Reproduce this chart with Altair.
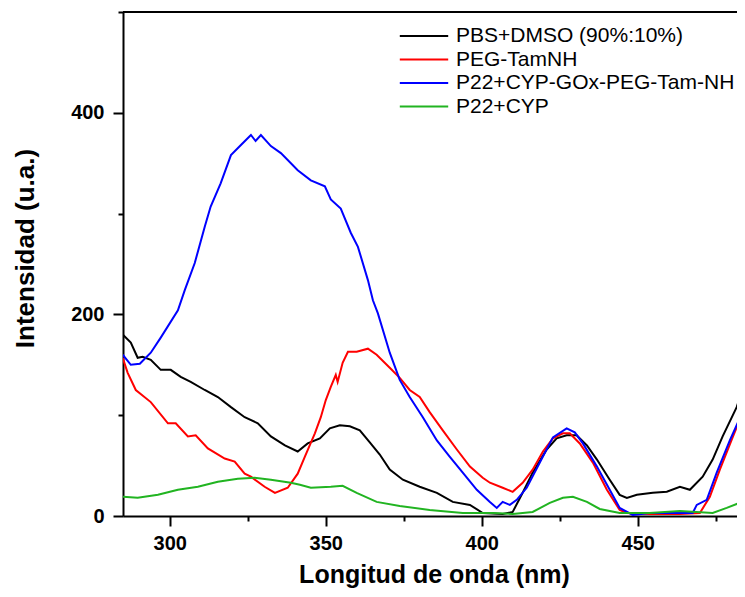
import altair as alt
import pandas as pd

# ---- data ----
SERIES = ["PBS+DMSO (90%:10%)", "PEG-TamNH", "P22+CYP-GOx-PEG-Tam-NH", "P22+CYP"]
COLORS = ["#000000", "#ff0000", "#0000ff", "#21b421"]

BLACK_X = [284.9, 287.5, 289.7, 291.3, 293.9, 297.1, 300.3, 303.5, 306.7, 311.2,
           315.4, 319.6, 324.0, 328.2, 332.4, 336.9, 341.0, 344.2, 348.1, 351.3,
           354.5, 357.7, 360.9, 364.1, 367.3, 370.5, 374.7, 380.1, 385.6, 390.7,
           396.2, 400.3, 406.7, 409.9, 413.1, 416.3, 420.8, 424.0, 427.2, 430.4,
           433.7, 436.9, 441.0, 444.2, 446.5, 449.7, 454.8, 459.3, 463.5, 466.7,
           470.8, 474.0, 477.2, 481.7, 484.3]
BLACK_Y = [180, 172, 157, 158, 155, 145, 145, 138, 133, 125,
           118, 108, 98, 92, 79, 70, 64, 72, 77, 87,
           90, 89, 85, 73, 61, 46, 36, 29, 23, 14,
           11, 3, 2, 4, 23, 43, 66, 77, 80, 80,
           70, 56, 36, 21, 18, 21, 23, 24, 29, 26,
           39, 56, 79, 108, 132]

RED_X = [284.9, 286.5, 289.1, 293.9, 299.4, 301.9, 305.8, 308.3, 312.2, 317.6,
         320.8, 324.0, 326.0, 330.4, 333.7, 337.8, 341.0, 343.3, 346.5, 348.4,
         350.0, 351.6, 353.2, 353.8, 355.4, 357.1, 359.9, 363.5, 366.3, 370.5,
         373.7, 376.9, 380.1, 383.3, 387.5, 392.0, 396.2, 400.3, 402.6, 406.7,
         409.9, 413.1, 416.3, 419.6, 422.8, 426.0, 428.2, 431.4, 435.6, 440.1,
         444.2, 446.5, 453.8, 463.5, 469.9, 473.1, 476.3, 480.4, 484.3]
RED_Y = [157, 142, 125, 113, 92, 92, 79, 80, 67, 57,
         54, 42, 39, 29, 23, 28, 42, 59, 82, 98,
         115, 128, 140, 133, 152, 163, 163, 166, 160, 147,
         137, 125, 118, 103, 85, 66, 49, 38, 33, 28,
         24, 33, 46, 64, 77, 82, 82, 72, 53, 26,
         6, 3, 2, 2, 3, 19, 46, 78, 108]

BLUE_X = [284.9, 287.5, 290.4, 293.9, 297.1, 302.6, 304.8, 308.0, 311.2, 313.1,
          316.3, 319.6, 322.8, 326.0, 327.5, 329.2, 332.4, 335.6, 341.0, 345.2,
          349.7, 351.6, 354.8, 358.0, 360.3, 363.5, 365.1, 366.7, 370.5, 373.7,
          376.9, 381.1, 385.6, 389.7, 393.9, 398.4, 402.6, 404.8, 406.7, 409.0,
          411.2, 414.4, 418.6, 422.8, 427.2, 429.8, 432.4, 436.9, 441.0, 444.2,
          448.4, 453.8, 460.3, 467.6, 468.9, 472.1, 475.3, 479.5, 484.3]
BLUE_Y = [160, 150, 151, 162, 177, 204, 224, 251, 287, 307,
          330, 358, 368, 378, 372, 378, 367, 360, 343, 333,
          327, 314, 305, 281, 267, 234, 214, 201, 162, 135,
          118, 98, 75, 59, 43, 26, 14, 8, 14, 11,
          16, 28, 53, 78, 87, 83, 72, 49, 26, 8,
          1, 3, 3, 3, 11, 16, 43, 75, 108]

GREEN_X = [284.9, 289.7, 296.2, 302.6, 309.0, 315.4, 321.8, 327.2, 332.4, 338.8,
           341.7, 345.2, 351.6, 355.4, 359.9, 366.3, 373.7, 383.3, 393.9, 403.5,
           409.9, 416.3, 421.8, 426.0, 429.2, 433.7, 437.8, 444.2, 453.8, 463.5,
           474.0, 478.5, 484.3]
GREEN_Y = [19, 18, 21, 26, 29, 34, 37, 38, 36, 33,
           31, 28, 29, 30, 23, 14, 10, 6, 3, 3,
           2, 4, 13, 18, 19, 14, 7, 3, 3, 5,
           3, 8, 15]

X_TICKS = [300, 325, 350, 375, 400, 425, 450, 475]
Y_TICKS = [0, 100, 200, 300, 400, 500]
X_DOMAIN = [285, 481.8]
Y_DOMAIN = [0, 500]

frames = []
for name, xs, ys in zip(SERIES, [BLACK_X, RED_X, BLUE_X, GREEN_X],
                        [BLACK_Y, RED_Y, BLUE_Y, GREEN_Y]):
    frames.append(pd.DataFrame({"wl": xs, "val": ys, "series": name}))
df = pd.concat(frames, ignore_index=True)
df["order"] = range(len(df))

FONT = "Liberation Sans"

x_axis = alt.Axis(
    values=X_TICKS, title="Longitud de onda (nm)",
    labelExpr="datum.value % 50 === 0 ? datum.label : ''",
    tickSize={"condition": {"test": "datum.value % 50 === 0", "value": 10}, "value": 5},
    labelPadding=7, labelFontSize=20, labelFontWeight="bold", labelFont=FONT,
    labelColor="black", titleFont=FONT, titleFontSize=25, titleFontWeight="bold",
    titleColor="black", titleX=311, titleY=66, titleBaseline="alphabetic",
    titleAlign="center", grid=False, domainColor="black", domainWidth=2,
    tickColor="black", tickWidth=2, labelFlush=False,
)
y_axis = alt.Axis(
    values=Y_TICKS, title="Intensidad (u.a.)",
    labelExpr="datum.value % 200 === 0 ? datum.label : ''",
    tickSize={"condition": {"test": "datum.value % 200 === 0", "value": 10}, "value": 5},
    labelPadding=9, labelFontSize=20, labelFontWeight="bold", labelFont=FONT,
    labelColor="black", titleFont=FONT, titleFontSize=26, titleFontWeight="bold",
    titleColor="black", titleX=-98, titleY=236, titleBaseline="middle",
    titleAlign="center", titleAngle=270, grid=False, domainColor="black",
    domainWidth=2, tickColor="black", tickWidth=2, labelFlush=False,
)

lines = alt.Chart(df).mark_line(strokeWidth=2, clip=True).encode(
    x=alt.X("wl:Q", scale=alt.Scale(domain=X_DOMAIN, nice=False, zero=False), axis=x_axis),
    y=alt.Y("val:Q", scale=alt.Scale(domain=Y_DOMAIN, nice=False), axis=y_axis),
    color=alt.Color(
        "series:N", sort=SERIES,
        scale=alt.Scale(domain=SERIES, range=COLORS),
        legend=alt.Legend(
            title=None, orient="none", legendX=289, legendY=12,
            symbolType="M-2.2,0L2.2,0", symbolSize=484, symbolStrokeWidth=2,
            labelFont=FONT, labelFontSize=21, labelColor="black",
            labelOffset=20, labelLimit=500, rowPadding=1.5, padding=0,
        ),
    ),
    order="order:Q",
)

top_line = alt.Chart(df).mark_rule(color="black", strokeWidth=2).encode(
    y=alt.datum(500)
)

chart = alt.layer(lines, top_line).properties(
    width=614, height=504,
    autosize=alt.AutoSizeParams(type="none"),
    padding={"left": 115, "top": 4, "right": 0, "bottom": 73},
).configure_view(stroke=None).configure(background="white")

chart.save("out.html", embed_options={"renderer": "svg", "actions": False})
